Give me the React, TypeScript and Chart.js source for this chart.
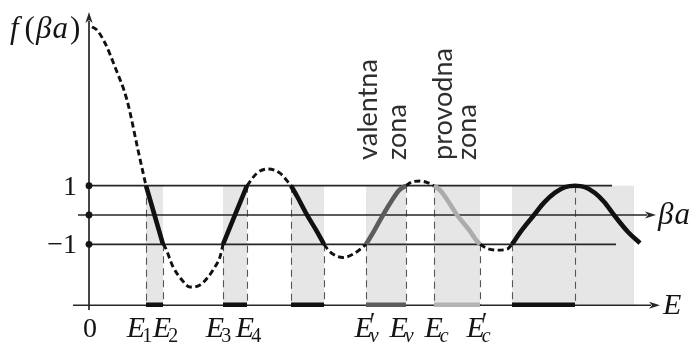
import { useEffect, useRef } from "react";
import { Chart, registerables } from "chart.js";

Chart.register(...registerables);

// f(βa) sampled along E (E in arbitrary units, 0 at the vertical axis)
const curveE = [
  0.3, 0.8, 1.6, 2.6, 3.8, 4.9, 5.5, 5.7,
  6.55, 7.4,
  7.6, 8.4, 9.3, 10.1, 11.1, 11.9, 12.6, 13.1, 13.4,
  14.6, 15.8,
  16.8, 17.9, 19.1, 20.2,
  20.9, 21.8, 22.7, 23.5,
  24.1, 25.4, 26.6, 27.7,
  28.5, 29.4, 30.3, 31.0, 31.7,
  32.3, 33.1, 33.9, 34.5,
  35.1, 35.8, 36.8, 38.1, 38.7, 39.1,
  39.8, 40.8, 41.8, 42.3,
  43.3, 44.5, 45.5, 46.6, 47.6, 48.6, 49.6, 50.6, 51.5, 52.5, 53.9, 55.1,
];
const curveF = [
  6.42, 6.31, 5.87, 5.05, 3.92, 2.22, 1.3, 1.0,
  0.0, -1.0,
  -1.09, -1.77, -2.22, -2.46, -2.39, -2.12, -1.77, -1.43, -1.0,
  0.0, 1.0,
  1.43, 1.57, 1.43, 1.0,
  0.58, 0.0, -0.51, -1.0,
  -1.26, -1.45, -1.3, -1.0,
  -0.55, 0.0, 0.5, 0.84, 1.0,
  1.13, 1.16, 1.1, 1.0,
  0.85, 0.53, 0.0, -0.55, -0.85, -1.0,
  -1.14, -1.2, -1.17, -1.0,
  -0.51, 0.0, 0.42, 0.76, 0.95, 1.0, 0.95, 0.75, 0.45, 0.0, -0.58, -0.96,
];

// allowed bands
const bandStart = [5.7, 13.4, 20.2, 27.7, 34.5, 42.3];
const bandEnd = [7.4, 15.8, 23.5, 31.7, 39.1, 55.1];
const shadeEnd = [7.4, 15.8, 23.5, 31.7, 39.1, 54.5];
const energyBarEnd = [7.4, 15.8, 23.5, 31.7, 39.1, 48.6];
const bandColors = ["#111111", "#111111", "#111111", "#5c5c5c", "#acacac", "#111111"];
const energyBarColors = ["#111111", "#111111", "#111111", "#5c5c5c", "#b3b3b3", "#111111"];

// vertical guide lines (E position, level they start from)
const guideE = [5.7, 7.4, 13.4, 15.8, 20.2, 23.5, 27.7, 31.7, 34.5, 39.1, 42.3, 48.6];
const guideF = [1, -1, -1, 1, 1, -1, -1, 1, 1, -1, -1, 1];

// energy labels
const energyLabelAt = [5.1, 7.7, 13.0, 16.0, 27.8, 31.3, 34.8, 39.0];
const energyLabelSub = ["1", "2", "3", "4", "v", "v", "c", "c"];
const energyLabelPrime = [false, false, false, false, true, false, false, true];

// y ticks
const yTickValues = [1, 0, -1];
const yTickLabels = ["1", "", "\u22121"];

const levelTop = 1;
const levelBottom = -1;
const energyAxisLevel = -3.08;

const SERIF = "'Liberation Serif', 'DejaVu Serif', serif";

function buildDatasets() {
  const pts = curveE.map((e, i) => ({ x: e, y: curveF[i] }));
  const eps = 1e-6;
  const sets: any[] = [];
  const dashed = (a: number, b: number) => ({
    data: pts.filter((p) => p.x >= a - eps && p.x <= b + eps),
    borderColor: "#111111",
    borderWidth: 2.9,
    borderDash: [6, 3.5],
    borderCapStyle: "butt",
    pointRadius: 0,
    cubicInterpolationMode: "monotone",
    fill: false,
    order: 2,
  });
  sets.push(dashed(-Infinity, bandStart[0]));
  for (let i = 0; i < bandStart.length; i++) {
    sets.push({
      data: pts.filter((p) => p.x >= bandStart[i] - eps && p.x <= bandEnd[i] + eps),
      borderColor: bandColors[i],
      borderWidth: 4.6,
      borderCapStyle: "butt",
      pointRadius: 0,
      cubicInterpolationMode: "monotone",
      fill: false,
      order: 1,
    });
    if (i < bandStart.length - 1) sets.push(dashed(bandEnd[i], bandStart[i + 1]));
  }
  return sets;
}

function arrowLine(ctx: CanvasRenderingContext2D, x1: number, y1: number, x2: number, y2: number) {
  const len = Math.hypot(x2 - x1, y2 - y1);
  const ux = (x2 - x1) / len;
  const uy = (y2 - y1) / len;
  const head = 11;
  const hw = 3.6;
  ctx.beginPath();
  ctx.moveTo(x1, y1);
  ctx.lineTo(x2 - ux * (head - 2), y2 - uy * (head - 2));
  ctx.stroke();
  ctx.beginPath();
  ctx.moveTo(x2, y2);
  ctx.lineTo(x2 - ux * head - uy * hw, y2 - uy * head + ux * hw);
  ctx.lineTo(x2 - ux * (head - 3), y2 - uy * (head - 3));
  ctx.lineTo(x2 - ux * head + uy * hw, y2 - uy * head - ux * hw);
  ctx.closePath();
  ctx.fill();
}

const diagramPlugin = {
  id: "diagram",
  beforeDatasetsDraw(chart: any) {
    const ctx: CanvasRenderingContext2D = chart.ctx;
    const X = (v: number) => chart.scales.x.getPixelForValue(v);
    const Y = (v: number) => chart.scales.y.getPixelForValue(v);
    ctx.save();
    // shaded bands
    ctx.fillStyle = "#e6e6e6";
    for (let i = 0; i < bandStart.length; i++) {
      ctx.fillRect(X(bandStart[i]), Y(levelTop), X(shadeEnd[i]) - X(bandStart[i]), Y(energyAxisLevel) - Y(levelTop));
    }
    // vertical dashed guides
    ctx.strokeStyle = "#555555";
    ctx.lineWidth = 1.1;
    ctx.setLineDash([7, 5]);
    for (let i = 0; i < guideE.length; i++) {
      ctx.beginPath();
      ctx.moveTo(Math.round(X(guideE[i])) + 0.5, Y(guideF[i]));
      ctx.lineTo(Math.round(X(guideE[i])) + 0.5, Y(energyAxisLevel));
      ctx.stroke();
    }
    ctx.setLineDash([]);
    // horizontal level lines
    ctx.strokeStyle = "#262626";
    ctx.fillStyle = "#262626";
    ctx.lineWidth = 1.7;
    ctx.beginPath();
    ctx.moveTo(X(0), Y(levelTop));
    ctx.lineTo(X(52.3), Y(levelTop));
    ctx.moveTo(X(0), Y(levelBottom));
    ctx.lineTo(X(52.7), Y(levelBottom));
    ctx.stroke();
    // axes
    arrowLine(ctx, X(-1.1), Y(0), X(56.7), Y(0));
    arrowLine(ctx, X(-1.6), Y(energyAxisLevel), X(57.1), Y(energyAxisLevel));
    arrowLine(ctx, X(0), Y(-3.24), X(0), Y(6.93));
    // energy bars on E axis
    ctx.lineWidth = 4.5;
    for (let i = 0; i < bandStart.length; i++) {
      ctx.strokeStyle = energyBarColors[i];
      ctx.beginPath();
      ctx.moveTo(X(bandStart[i]), Y(energyAxisLevel) - 0.5);
      ctx.lineTo(X(energyBarEnd[i]), Y(energyAxisLevel) - 0.5);
      ctx.stroke();
    }
    ctx.restore();
  },
  afterDatasetsDraw(chart: any) {
    const ctx: CanvasRenderingContext2D = chart.ctx;
    const X = (v: number) => chart.scales.x.getPixelForValue(v);
    const Y = (v: number) => chart.scales.y.getPixelForValue(v);
    ctx.save();
    ctx.fillStyle = "#141414";
    // dots and tick labels on the vertical axis
    for (let i = 0; i < yTickValues.length; i++) {
      ctx.beginPath();
      ctx.arc(X(0), Y(yTickValues[i]), 3.4, 0, Math.PI * 2);
      ctx.fill();
      if (yTickLabels[i]) {
        ctx.font = `28px ${SERIF}`;
        ctx.textAlign = "right";
        ctx.textBaseline = "alphabetic";
        ctx.fillText(yTickLabels[i], X(0) - 12, Y(yTickValues[i]) + 9);
      }
    }
    // zero
    ctx.font = `28px ${SERIF}`;
    ctx.textAlign = "center";
    ctx.fillText("0", X(0) + 1, Y(energyAxisLevel) + 32);

    // energy labels
    ctx.textAlign = "left";
    for (let i = 0; i < energyLabelAt.length; i++) {
      const sub = energyLabelSub[i];
      const isDigit = /[0-9]/.test(sub);
      ctx.font = `italic 30px ${SERIF}`;
      const wE = ctx.measureText("E").width;
      const subFont = `${isDigit ? "" : "italic "}20px ${SERIF}`;
      ctx.font = subFont;
      const wS = ctx.measureText(sub).width;
      const total = wE - 2 + wS;
      const x0 = X(energyLabelAt[i]) - total / 2;
      const base = Y(energyAxisLevel) + 32;
      ctx.font = `italic 30px ${SERIF}`;
      ctx.fillText("E", x0, base);
      if (energyLabelPrime[i]) {
        ctx.font = `26px ${SERIF}`;
        ctx.fillText("\u2032", x0 + wE - 3, base - 7);
      }
      ctx.font = subFont;
      ctx.fillText(sub, x0 + wE - 3, base + 5);
    }

    // axis names
    ctx.font = `italic 30px ${SERIF}`;
    ctx.fillText("E", X(57.1) + 3, Y(energyAxisLevel) + 9);
    ctx.font = `italic 31px ${SERIF}`;
    ctx.fillText("\u03B2", X(56.7) + 2, Y(0) + 9);
    const wb = ctx.measureText("\u03B2").width;
    ctx.fillText("a", X(56.7) + 3 + wb, Y(0) + 9);

    // f (βa)
    let x = X(0) - 79;
    const by = 38;
    ctx.font = `italic 31px ${SERIF}`;
    ctx.fillText("f", x, by);
    x += ctx.measureText("f").width + 6;
    ctx.font = `31px ${SERIF}`;
    ctx.fillText("(", x, by);
    x += ctx.measureText("(").width + 1;
    ctx.font = `italic 31px ${SERIF}`;
    ctx.fillText("\u03B2", x, by);
    x += ctx.measureText("\u03B2").width + 1;
    ctx.fillText("a", x, by);
    x += ctx.measureText("a").width + 2;
    ctx.font = `31px ${SERIF}`;
    ctx.fillText(")", x, by);

    // rotated zone names
    ctx.fillStyle = "#2e2e2e";
    ctx.font = "27px Lato, 'Liberation Sans', sans-serif";
    const rot = (t: string, e: number, f: number) => {
      ctx.save();
      ctx.translate(X(e), Y(f));
      ctx.rotate(-Math.PI / 2);
      ctx.textAlign = "left";
      ctx.fillText(t, 0, 0);
      ctx.restore();
    };
    rot("valentna", 28.8, 1.88);
    rot("zona", 31.7, 1.88);
    rot("provodna", 36.3, 1.88);
    rot("zona", 38.7, 1.88);
    ctx.restore();
  },
};

export default function App() {
  const ref = useRef<HTMLCanvasElement | null>(null);
  useEffect(() => {
    if (!ref.current) return;
    const chart = new Chart(ref.current, {
      type: "line",
      data: { datasets: buildDatasets() },
      options: {
        animation: false,
        responsive: false,
        devicePixelRatio: 1,
        layout: { padding: 0 },
        parsing: false as any,
        normalized: true,
        scales: {
          x: { type: "linear", min: -8.9, max: 60.5, display: false },
          y: { type: "linear", min: -4.369, max: 7.338, display: false },
        },
        plugins: { legend: { display: false }, tooltip: { enabled: false } },
        events: [],
      },
      plugins: [diagramPlugin],
    });
    return () => chart.destroy();
  }, []);
  return (
    <div style={{ position: "absolute", left: 0, top: 0, width: 694, height: 343, background: "#fff" }}>
      <canvas ref={ref} width={694} height={343} style={{ display: "block" }} />
    </div>
  );
}
